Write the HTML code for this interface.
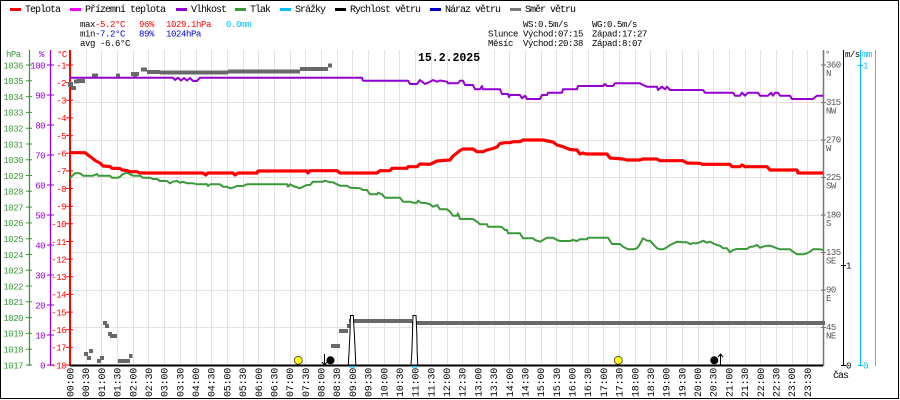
<!DOCTYPE html>
<html><head><meta charset="utf-8">
<style>
html,body{margin:0;padding:0;background:#fff;}
svg{display:block;}
.t{font-family:"Liberation Mono","DejaVu Sans Mono",monospace;font-size:10px;letter-spacing:-1px;}
.s{font-family:"Liberation Mono","DejaVu Sans Mono",monospace;font-size:9px;letter-spacing:-0.4px;}
.a{font-family:"Liberation Mono","DejaVu Sans Mono",monospace;font-size:9px;letter-spacing:-0.5px;}
.x{font-family:"Liberation Mono","DejaVu Sans Mono",monospace;font-size:10px;letter-spacing:-0.2px;}
</style></head>
<body>
<svg width="900" height="400" viewBox="0 0 900 400" xmlns="http://www.w3.org/2000/svg">
<rect x="0" y="0" width="900" height="400" fill="#fff"/>
<rect x="0.5" y="0.5" width="898" height="398" fill="none" stroke="#000" stroke-width="1"/>

<!-- legend -->
<g class="t">
<rect x="10" y="8" width="11" height="3" fill="#ff0000"/><text x="25" y="12">Teplota</text>
<rect x="70" y="8" width="11" height="3" fill="#ff00ff"/><text x="85" y="12">Přízemní teplota</text>
<rect x="176" y="8" width="11" height="3" fill="#9400d3"/><text x="191" y="12">Vlhkost</text>
<rect x="235" y="8" width="11" height="3" fill="#3a9a3a"/><text x="250" y="12">Tlak</text>
<rect x="280" y="8" width="11" height="3" fill="#00bfff"/><text x="295" y="12">Srážky</text>
<rect x="335" y="8" width="11" height="3" fill="#000"/><text x="350" y="12">Rychlost větru</text>
<rect x="430" y="8" width="11" height="3" fill="#0000cc"/><text x="445" y="12">Náraz větru</text>
<rect x="510" y="8" width="11" height="3" fill="#777"/><text x="525" y="12">Směr větru</text>
</g>

<!-- stats -->
<g class="s">
<text x="80" y="27">max</text>
<text x="95" y="27" fill="#ff0000">-5.2°C</text>
<text x="139" y="27" fill="#ff0000">96%</text>
<text x="166" y="27" fill="#ff0000">1029.1hPa</text>
<text x="226" y="27" fill="#00bfff">0.0mm</text>
<text x="80" y="36.5">min</text>
<text x="95" y="36.5" fill="#0000dd">-7.2°C</text>
<text x="139" y="36.5" fill="#0000dd">89%</text>
<text x="166" y="36.5" fill="#0000dd">1024hPa</text>
<text x="80" y="46">avg -6.6°C</text>
<text x="523" y="27">WS:0.5m/s</text>
<text x="592" y="27">WG:0.5m/s</text>
<text x="488" y="36.5">Slunce</text>
<text x="523" y="36.5">Východ:07:15</text>
<text x="592" y="36.5">Západ:17:27</text>
<text x="488" y="46">Měsíc</text>
<text x="523" y="46">Východ:20:38</text>
<text x="592" y="46">Západ:8:07</text>
</g>

<!-- grid -->
<g stroke="#e6e2e2" stroke-width="1">
<path d="M86.5 50V365M101.5 50V365M117.5 50V365M133.5 50V365M148.5 50V365M164.5 50V365M180.5 50V365M196.5 50V365M211.5 50V365M227.5 50V365M243.5 50V365M258.5 50V365M274.5 50V365M290.5 50V365M305.5 50V365M321.5 50V365M337.5 50V365M352.5 50V365M368.5 50V365M384.5 50V365M399.5 50V365M415.5 50V365M431.5 50V365M447.5 50V365M462.5 50V365M478.5 50V365M494.5 50V365M509.5 50V365M525.5 50V365M541.5 50V365M556.5 50V365M572.5 50V365M588.5 50V365M603.5 50V365M619.5 50V365M635.5 50V365M650.5 50V365M666.5 50V365M682.5 50V365M698.5 50V365M713.5 50V365M729.5 50V365M745.5 50V365M760.5 50V365M776.5 50V365M792.5 50V365M807.5 50V365"/>
<path d="M70 102.5H823M70 140.5H823M70 177.5H823M70 215.5H823M70 252.5H823M70 290.5H823M70 327.5H823"/>
</g>

<!-- title -->
<text x="418" y="61" style="font-family:'Liberation Mono',monospace;font-size:11.5px;font-weight:bold;">15.2.2025</text>

<!-- left axes -->
<g class="a">
<text x="6" y="57" fill="#3a9a3a">hPa</text>
<text x="39" y="57" fill="#9400d3">%</text>
<text x="57" y="57" fill="#ff0000">°C</text>
</g>
<path d="M29.5 50V366" stroke="#3a9a3a" stroke-width="1.3"/>
<path d="M50.5 50V366" stroke="#9400d3" stroke-width="1.3"/>
<path d="M70 50V366" stroke="#ff0000" stroke-width="2"/>
<path stroke="#3a9a3a" stroke-width="1" d="M26 65H32M26 80.8H32M26 96.6H32M26 112.4H32M26 128.2H32M26 144H32M26 159.7H32M26 175.5H32M26 191.3H32M26 207.1H32M26 222.9H32M26 238.7H32M26 254.5H32M26 270.3H32M26 286H32M26 301.8H32M26 317.6H32M26 333.4H32M26 349.2H32M26 365H32"/>
<path stroke="#9400d3" stroke-width="1" d="M47 65H54M47 95H54M47 125H54M47 155H54M47 185H54M47 215H54M47 245H54M47 275H54M47 305H54M47 335H54M47 365H54"/>
<path stroke="#ff0000" stroke-width="1" d="M66 65H73M66 82.6H73M66 100.3H73M66 117.9H73M66 135.6H73M66 153.2H73M66 170.9H73M66 188.5H73M66 206.2H73M66 223.8H73M66 241.5H73M66 259.1H73M66 276.8H73M66 294.4H73M66 312.1H73M66 329.7H73M66 347.4H73M66 365H73"/>
<g class="a" text-anchor="end" fill="#3a9a3a">
<text x="23" y="68.3">1036</text><text x="23" y="84.1">1035</text><text x="23" y="99.9">1034</text><text x="23" y="115.7">1033</text><text x="23" y="131.5">1032</text><text x="23" y="147.3">1031</text><text x="23" y="163">1030</text><text x="23" y="178.8">1029</text><text x="23" y="194.6">1028</text><text x="23" y="210.4">1027</text><text x="23" y="226.2">1026</text><text x="23" y="242">1025</text><text x="23" y="257.8">1024</text><text x="23" y="273.6">1023</text><text x="23" y="289.3">1022</text><text x="23" y="305.1">1021</text><text x="23" y="320.9">1020</text><text x="23" y="336.7">1019</text><text x="23" y="352.5">1018</text><text x="23" y="368.3">1017</text>
</g>
<g class="a" text-anchor="end" fill="#9400d3">
<text x="45" y="68.3">100</text><text x="45" y="98.3">90</text><text x="45" y="128.3">80</text><text x="45" y="158.3">70</text><text x="45" y="188.3">60</text><text x="45" y="218.3">50</text><text x="45" y="248.3">40</text><text x="45" y="278.3">30</text><text x="45" y="308.3">20</text><text x="45" y="338.3">10</text><text x="45" y="368.3">0</text>
</g>
<g class="a" text-anchor="end" fill="#ff0000">
<text x="66" y="68.3">-1</text><text x="66" y="85.9">-2</text><text x="66" y="103.6">-3</text><text x="66" y="121.2">-4</text><text x="66" y="138.9">-5</text><text x="66" y="156.5">-6</text><text x="66" y="174.2">-7</text><text x="66" y="191.8">-8</text><text x="66" y="209.5">-9</text><text x="66" y="227.1">-10</text><text x="66" y="244.8">-11</text><text x="66" y="262.4">-12</text><text x="66" y="280.1">-13</text><text x="66" y="297.7">-14</text><text x="66" y="315.4">-15</text><text x="66" y="333">-16</text><text x="66" y="350.7">-17</text><text x="66" y="368.3">-18</text>
</g>

<!-- right axes -->
<path d="M823.5 50V366" stroke="#777" stroke-width="1.5"/>
<path d="M843.5 50V366" stroke="#000" stroke-width="1"/>
<path d="M860.5 50V366" stroke="#00bfff" stroke-width="1"/>
<path d="M875.5 50V366" stroke="#e8902f" stroke-width="1"/>
<path stroke="#777" stroke-width="1" d="M821 65H826M821 102.5H826M821 140H826M821 177.5H826M821 215H826M821 252.5H826M821 290H826M821 327.5H826"/>
<path stroke="#000" stroke-width="1" d="M841 265.5H846M841 365.5H846"/>
<path stroke="#00bfff" stroke-width="1" d="M858 65.5H863M858 365.5H863"/>
<g class="a" fill="#555">
<text x="825" y="57">°</text>
<text x="826" y="67.5">360</text><text x="826" y="76">N</text>
<text x="826" y="105">315</text><text x="826" y="113.5">NW</text>
<text x="826" y="142.5">270</text><text x="826" y="151">W</text>
<text x="826" y="180">225</text><text x="826" y="188.5">SW</text>
<text x="826" y="217.5">180</text><text x="826" y="226">S</text>
<text x="826" y="255">135</text><text x="826" y="263.5">SE</text>
<text x="826" y="292.5">90</text><text x="826" y="301">E</text>
<text x="826" y="330">45</text><text x="826" y="338.5">NE</text>
</g>
<g class="a">
<text x="845" y="57" fill="#000">m/s</text>
<text x="862" y="57" fill="#00bfff">mm</text>
<text x="846" y="268.5" fill="#000">1</text>
<text x="846" y="368.5" fill="#000">0</text>
<text x="863" y="68.5" fill="#00bfff">1</text>
<text x="863" y="368.5" fill="#00bfff">0</text>
</g>
<text x="833" y="378" class="t">čas</text>

<!-- wind direction -->
<g fill="#686868">
<rect x="68" y="82" width="5" height="5"/><rect x="71" y="86" width="5" height="4"/><rect x="74" y="79.5" width="5" height="4"/><rect x="77" y="79" width="8" height="4"/>
<rect x="92" y="73.5" width="6" height="4"/><rect x="116" y="73.5" width="4" height="4"/>
<rect x="131" y="72" width="8" height="4"/><rect x="133" y="74" width="4" height="3"/>
<rect x="141" y="67.5" width="6" height="4"/><rect x="147" y="70" width="13" height="4"/>
<rect x="160" y="70.5" width="68" height="4"/><rect x="228" y="69.5" width="72" height="4"/>
<rect x="300" y="67" width="28" height="4"/><rect x="328" y="63.5" width="4" height="4"/>
<rect x="84" y="352" width="4" height="4"/><rect x="87" y="356" width="4" height="4"/><rect x="89" y="349" width="4" height="4"/>
<rect x="97" y="359" width="4" height="4"/><rect x="100" y="356" width="4" height="4"/>
<rect x="103" y="321" width="4" height="4"/><rect x="105" y="324" width="4" height="4"/>
<rect x="108" y="332" width="4" height="4"/><rect x="110" y="334" width="7" height="4"/>
<rect x="118" y="359" width="12" height="4"/><rect x="129" y="354" width="3.5" height="4"/>
<rect x="331" y="344" width="9" height="4"/><rect x="339" y="329" width="9" height="4"/>
<rect x="347" y="324" width="3" height="4"/><rect x="349" y="319" width="63" height="4"/>
<rect x="412" y="321" width="413" height="4"/>
</g>

<!-- pressure -->
<polyline fill="none" stroke="#3a9a3a" stroke-width="2" stroke-linejoin="round" points="70,178.3 73,175 75,173.3 80,173.3 83,175.7 93,175.7 97,174 98,175.7 110,175.7 112,177.7 118,177.7 120,176.7 123,174 127,172.7 130,174.3 133,175.7 140,175.7 143,177.7 150,177.7 153,179 157,179 160,181 167,181 170,183.3 173,181.7 177,181 180,182.7 183,181.7 187,183.3 193,183.3 197,184.3 207,184.3 208,186 210,184.3 220,184.3 223,186.7 227,186.7 230,188.3 233,187.7 237,186 243,186 247,184.3 287,184.3 288,186.7 290,184.3 293,186 300,188.3 303,186.7 307,185 310,185 313,181.7 323,181.7 325,180.7 330,182.3 333,182.3 337,184.3 340,185.7 347,185.7 350,187.7 360,188.3 363,190 367,190 370,194.3 377,194.3 378,192.7 382,194.3 385,197.7 400,197.7 403,201.7 410,201.7 413,202.7 417,202.7 418,200.7 421,202.7 427,203.3 430,204.3 433,206.7 437,205 440,209.3 447,209.3 450,211.7 453,215.7 457,215.7 458,213.3 460,219 473,219 477,221.7 480,224.3 487,224.3 488,226.7 500,226.7 502,227.3 505,230 507,230 508,233.3 520,233.3 523,238.3 533,238.3 535,240 540,241.7 543,240 547,237.7 553,237.7 557,240 560,241 570,241 573,240 577,241 580,239.3 587,239.3 588,237.7 608,237.7 612,244 620,244 623,246.7 628,249.3 633,249.3 637,248.3 640,244 643,238.3 647,240.7 650,240.7 653,244 657,248.3 660,249.3 663,249.3 667,247.3 670,245 677,241.7 683,242.3 687,242.3 690,244 693,243.3 697,243.3 700,242.3 703,240.7 707,242.7 710,241.7 713,243.3 717,245 720,245.7 723,248.3 727,248.3 730,252.3 733,250 737,249 747,249 750,246.7 753,246.7 757,245 760,247.7 763,246.7 767,245.7 770,245.7 773,246.7 777,248.3 780,249.3 790,249.3 793,251.7 797,254.3 803,254.3 807,253.3 810,251.7 813,249.3 820,249.3 823,250"/>

<!-- humidity -->
<polyline fill="none" stroke="#9400d3" stroke-width="2" stroke-linejoin="round" points="70,77.7 173,77.7 175,80 178,77.7 181,80.5 184,78 187,80.5 190,78 193,81 197,81 200,77.7 362,77.7 363,80.7 408,80.7 410,84 417,84 420,80 425,84 430,81.7 433,80 437,81.7 440,80.5 447,81.7 448,83.3 458,83.3 460,80.7 463,80.7 465,85 473,85 475,89.3 480,89.3 482,86 483,89.3 500,89.3 502,94 508,94 509,97 510,95 520,95 522,98.3 525,95.7 527,99 540,99 542,95 547,95 548,92.7 562,92.7 563,89.3 577,89.3 578,86 603,86 605,84 607,86 613,86 615,83.3 640,83.3 643,85 647,86.7 657,86.7 658,90 662,86.7 665,89.3 667,86.7 670,90 703,90 705,92.7 733,92.7 735,95.7 740,95.7 742,92.7 745,95.7 748,92.7 758,92.7 760,95.7 768,95.7 771,92.7 773,95.7 775,92.7 778,92.7 780,95.7 790,95.7 792,99 813,99 817,95.7 823,95.7"/>

<!-- temperature -->
<polyline fill="none" stroke="#ff0000" stroke-width="3.2" stroke-linejoin="round" points="70,152.7 85,152.7 88,155 92,158 96,161 100,163 103,166 110,166.5 112,168.3 120,168.5 122,170 127,170.5 130,171.7 137,171.7 140,173 203,173 205.7,175 208,173 233,173 235,175 238,173 257,173 258,171 307,171 308,173 310,170.7 337,170.7 340,173 377,173 380,170.7 390,170.7 392,168.3 407,168.3 408,166.7 417,166.7 420,164 430,164.3 437,161 450,160 453,156 457,153 460,150.5 463,149 473,149 477,151.7 483,151.7 487,150 493,148.5 497,147 500,143.5 505,142.7 510,142.7 513,141.7 520,141.7 523,140 543,140 548,141 553,142 557,145 563,146.7 570,149.5 577,150 580,154 583,153 586,154 607,154 610,158 623,159 627,160 640,160 643,159 657,159 660,160.7 683,160.7 687,163 700,163.3 702,164.3 730,164.3 732,166.7 740,166.7 742,165 745,166.7 767,166.7 770,170 797,170 798,173 823,173"/>

<!-- wind speed spikes -->
<polygon points="348.3,365 349,353 350,333 350.3,320 350.5,315.5 353.3,315.5 353.5,320 354.3,333 355.3,353 355.8,365" fill="#fff" stroke="#000" stroke-width="1"/>
<polygon points="411,365 411.8,353 412.5,333 412.8,320 413,315.5 416,315.5 416.2,320 416.8,333 417.2,353 417.8,365" fill="#fff" stroke="#000" stroke-width="1"/>

<!-- x axis -->
<path d="M70 365.5H823" stroke="#000" stroke-width="2"/>
<rect x="349" y="366" width="6" height="1.5" fill="#00bfff"/>
<rect x="411.5" y="366" width="6" height="1.5" fill="#00bfff"/>

<!-- sun & moon -->
<circle cx="298.3" cy="360.3" r="4" fill="#ffff00" stroke="#333" stroke-width="0.8"/>
<circle cx="618.3" cy="360.3" r="4" fill="#ffff00" stroke="#333" stroke-width="0.8"/>
<circle cx="330.5" cy="360.3" r="4" fill="#000"/>
<circle cx="714.3" cy="360.3" r="4" fill="#000"/>
<path d="M324.5 354V365M322 362L324.5 365L327 362" stroke="#000" stroke-width="1" fill="none"/>
<path d="M720.5 354V365M718 357L720.5 354L723 357" stroke="#000" stroke-width="1" fill="none"/>

<!-- x labels -->
<g class="x" text-anchor="end">
<text transform="translate(73.5,368) rotate(-90)">00:00</text>
<text transform="translate(89.2,368) rotate(-90)">00:30</text>
<text transform="translate(104.9,368) rotate(-90)">01:00</text>
<text transform="translate(120.6,368) rotate(-90)">01:30</text>
<text transform="translate(136.3,368) rotate(-90)">02:00</text>
<text transform="translate(151.9,368) rotate(-90)">02:30</text>
<text transform="translate(167.6,368) rotate(-90)">03:00</text>
<text transform="translate(183.3,368) rotate(-90)">03:30</text>
<text transform="translate(199,368) rotate(-90)">04:00</text>
<text transform="translate(214.7,368) rotate(-90)">04:30</text>
<text transform="translate(230.4,368) rotate(-90)">05:00</text>
<text transform="translate(246.1,368) rotate(-90)">05:30</text>
<text transform="translate(261.8,368) rotate(-90)">06:00</text>
<text transform="translate(277.4,368) rotate(-90)">06:30</text>
<text transform="translate(293.1,368) rotate(-90)">07:00</text>
<text transform="translate(308.8,368) rotate(-90)">07:30</text>
<text transform="translate(324.5,368) rotate(-90)">08:00</text>
<text transform="translate(340.2,368) rotate(-90)">08:30</text>
<text transform="translate(355.9,368) rotate(-90)">09:00</text>
<text transform="translate(371.6,368) rotate(-90)">09:30</text>
<text transform="translate(387.3,368) rotate(-90)">10:00</text>
<text transform="translate(402.9,368) rotate(-90)">10:30</text>
<text transform="translate(418.6,368) rotate(-90)">11:00</text>
<text transform="translate(434.3,368) rotate(-90)">11:30</text>
<text transform="translate(450,368) rotate(-90)">12:00</text>
<text transform="translate(465.7,368) rotate(-90)">12:30</text>
<text transform="translate(481.4,368) rotate(-90)">13:00</text>
<text transform="translate(497.1,368) rotate(-90)">13:30</text>
<text transform="translate(512.8,368) rotate(-90)">14:00</text>
<text transform="translate(528.4,368) rotate(-90)">14:30</text>
<text transform="translate(544.1,368) rotate(-90)">15:00</text>
<text transform="translate(559.8,368) rotate(-90)">15:30</text>
<text transform="translate(575.5,368) rotate(-90)">16:00</text>
<text transform="translate(591.2,368) rotate(-90)">16:30</text>
<text transform="translate(606.9,368) rotate(-90)">17:00</text>
<text transform="translate(622.6,368) rotate(-90)">17:30</text>
<text transform="translate(638.3,368) rotate(-90)">18:00</text>
<text transform="translate(653.9,368) rotate(-90)">18:30</text>
<text transform="translate(669.6,368) rotate(-90)">19:00</text>
<text transform="translate(685.3,368) rotate(-90)">19:30</text>
<text transform="translate(701,368) rotate(-90)">20:00</text>
<text transform="translate(716.7,368) rotate(-90)">20:30</text>
<text transform="translate(732.4,368) rotate(-90)">21:00</text>
<text transform="translate(748.1,368) rotate(-90)">21:30</text>
<text transform="translate(763.8,368) rotate(-90)">22:00</text>
<text transform="translate(779.4,368) rotate(-90)">22:30</text>
<text transform="translate(795.1,368) rotate(-90)">23:00</text>
<text transform="translate(810.8,368) rotate(-90)">23:30</text>
</g>
</svg>
</body></html>
